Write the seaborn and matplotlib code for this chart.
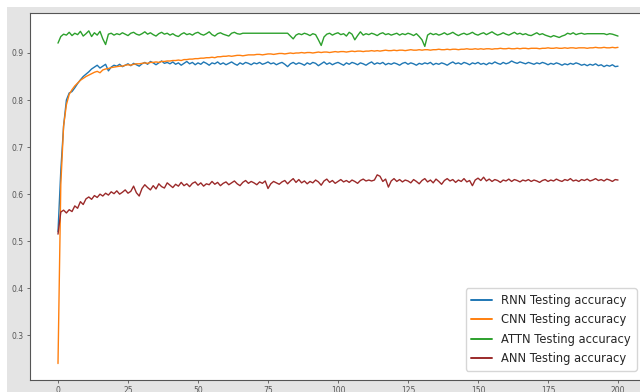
import numpy as np
import pandas as pd
import matplotlib
matplotlib.use("Agg")
import matplotlib.pyplot as plt
import seaborn as sns
from matplotlib.patches import Rectangle

epochs = list(range(201))

cnn_acc = [
    0.240, 0.620, 0.745, 0.790, 0.812, 0.822, 0.830, 0.836, 0.842, 0.846,
    0.850, 0.853, 0.856, 0.859, 0.861, 0.858, 0.864, 0.866, 0.867, 0.869,
    0.870, 0.871, 0.872, 0.872, 0.874, 0.875, 0.874, 0.876, 0.877, 0.877,
    0.878, 0.879, 0.878, 0.880, 0.880, 0.881, 0.880, 0.882, 0.882, 0.883,
    0.883, 0.884, 0.884, 0.885, 0.884, 0.886, 0.886, 0.887, 0.887, 0.888,
    0.888, 0.889, 0.889, 0.890, 0.890, 0.891, 0.890, 0.892, 0.892, 0.893,
    0.893, 0.894, 0.893, 0.894, 0.895, 0.895, 0.894, 0.895, 0.896, 0.896,
    0.896, 0.897, 0.897, 0.896, 0.897, 0.898, 0.898, 0.897, 0.898, 0.899,
    0.899, 0.898, 0.899, 0.900, 0.899, 0.900, 0.900, 0.901, 0.900, 0.901,
    0.901, 0.900, 0.901, 0.902, 0.901, 0.902, 0.902, 0.901, 0.902, 0.903,
    0.902, 0.903, 0.903, 0.902, 0.903, 0.904, 0.903, 0.904, 0.904, 0.903,
    0.904, 0.904, 0.905, 0.904, 0.905, 0.904, 0.905, 0.906, 0.905, 0.905,
    0.906, 0.905, 0.906, 0.906, 0.905, 0.906, 0.907, 0.906, 0.906, 0.907,
    0.906, 0.907, 0.907, 0.906, 0.907, 0.907, 0.908, 0.907, 0.907, 0.908,
    0.907, 0.908, 0.908, 0.907, 0.908, 0.908, 0.909, 0.908, 0.908, 0.909,
    0.908, 0.909, 0.908, 0.909, 0.909, 0.908, 0.909, 0.909, 0.910, 0.909,
    0.909, 0.910, 0.909, 0.909, 0.910, 0.909, 0.910, 0.910, 0.909, 0.910,
    0.910, 0.910, 0.909, 0.910, 0.910, 0.911, 0.910, 0.910, 0.911, 0.910,
    0.910, 0.911, 0.910, 0.911, 0.911, 0.910, 0.911, 0.911, 0.911, 0.910,
    0.911, 0.911, 0.912, 0.911, 0.911, 0.912, 0.911, 0.911, 0.912, 0.911,
    0.912,
]

rnn_acc = [
    0.520, 0.650, 0.745, 0.800, 0.815, 0.818, 0.826, 0.835, 0.843, 0.850,
    0.855, 0.860, 0.866, 0.870, 0.874, 0.868, 0.872, 0.876, 0.862, 0.870,
    0.874, 0.872, 0.876, 0.871, 0.874, 0.877, 0.873, 0.878, 0.875, 0.872,
    0.877, 0.880, 0.876, 0.882, 0.879, 0.875, 0.879, 0.883, 0.878, 0.880,
    0.877, 0.881, 0.876, 0.879, 0.874, 0.878, 0.882, 0.877, 0.880, 0.875,
    0.879, 0.876, 0.881, 0.878, 0.874, 0.879, 0.877, 0.881, 0.876, 0.879,
    0.875, 0.878, 0.881, 0.877, 0.874, 0.879, 0.876, 0.880, 0.878, 0.875,
    0.879, 0.877, 0.880, 0.876, 0.878, 0.881, 0.877, 0.879, 0.875, 0.878,
    0.880, 0.876, 0.871, 0.877, 0.880, 0.876, 0.879, 0.877, 0.874, 0.879,
    0.876, 0.880, 0.878, 0.873, 0.877, 0.881, 0.876, 0.879, 0.875, 0.878,
    0.880, 0.877, 0.874, 0.879, 0.876, 0.880, 0.878, 0.875, 0.879, 0.877,
    0.874, 0.878, 0.881, 0.876, 0.879, 0.877, 0.880, 0.875, 0.878, 0.876,
    0.879, 0.877, 0.874, 0.878, 0.880, 0.876, 0.879, 0.877, 0.874, 0.878,
    0.876, 0.879, 0.877, 0.880, 0.875, 0.878, 0.876, 0.879, 0.877, 0.874,
    0.878, 0.881, 0.877, 0.879, 0.876, 0.880, 0.878, 0.875, 0.879, 0.877,
    0.880, 0.876, 0.878, 0.875, 0.879, 0.877, 0.881, 0.878, 0.876, 0.880,
    0.877, 0.879, 0.883, 0.880, 0.878, 0.881, 0.879, 0.877, 0.880, 0.878,
    0.876, 0.879, 0.877, 0.880, 0.878, 0.875, 0.878, 0.876, 0.879, 0.877,
    0.874, 0.877, 0.875, 0.878, 0.876, 0.879, 0.877, 0.874, 0.876, 0.873,
    0.876, 0.874, 0.877, 0.873, 0.875, 0.871, 0.874, 0.872, 0.875, 0.871,
    0.872,
]

attn_acc = [
    0.921, 0.935, 0.940, 0.938, 0.944, 0.937, 0.942, 0.939, 0.946, 0.936,
    0.941, 0.947, 0.935, 0.943, 0.938, 0.946, 0.930, 0.918, 0.940, 0.942,
    0.938, 0.941, 0.939, 0.943, 0.940, 0.937, 0.942, 0.944, 0.940, 0.938,
    0.941, 0.945, 0.940, 0.943, 0.939, 0.936, 0.941, 0.944, 0.940, 0.942,
    0.938, 0.941, 0.937, 0.935, 0.940, 0.943, 0.939, 0.941, 0.938, 0.942,
    0.944, 0.940, 0.938, 0.941, 0.945, 0.939, 0.936, 0.941, 0.943, 0.940,
    0.938, 0.936, 0.942, 0.944, 0.941, 0.940, 0.942, 0.942, 0.942, 0.942,
    0.942, 0.942, 0.942, 0.942, 0.942, 0.942, 0.942, 0.942, 0.942, 0.942,
    0.942, 0.942, 0.942, 0.936, 0.930, 0.938, 0.941, 0.939, 0.942, 0.940,
    0.937, 0.941, 0.939, 0.928, 0.916, 0.934, 0.940, 0.942, 0.938, 0.941,
    0.943, 0.939, 0.941, 0.936, 0.944, 0.940, 0.928, 0.937, 0.945, 0.938,
    0.941, 0.939, 0.942, 0.940, 0.937, 0.941, 0.943, 0.939, 0.941, 0.938,
    0.940, 0.942, 0.938, 0.941, 0.939, 0.942, 0.940, 0.937, 0.941, 0.935,
    0.928, 0.914, 0.938, 0.942, 0.939, 0.941, 0.938, 0.940, 0.943, 0.939,
    0.941, 0.944, 0.940, 0.937, 0.940, 0.942, 0.939, 0.941, 0.944, 0.940,
    0.938, 0.941, 0.943, 0.939, 0.942, 0.945, 0.941, 0.938, 0.940, 0.943,
    0.940, 0.938, 0.941, 0.944, 0.940, 0.942, 0.939, 0.941, 0.938, 0.937,
    0.940, 0.943, 0.939, 0.941, 0.938, 0.936, 0.934, 0.937, 0.935, 0.933,
    0.936, 0.938, 0.942, 0.940, 0.943, 0.939, 0.941, 0.942, 0.940, 0.941,
    0.941, 0.941, 0.941, 0.941, 0.941, 0.941, 0.939, 0.941, 0.940, 0.938,
    0.936,
]

ann_acc = [
    0.515, 0.562, 0.566, 0.560, 0.567, 0.563, 0.575, 0.570, 0.584, 0.578,
    0.590, 0.594, 0.589, 0.597, 0.593, 0.600, 0.596, 0.602, 0.598, 0.605,
    0.601, 0.607, 0.600, 0.604, 0.609, 0.602, 0.606, 0.617, 0.603, 0.596,
    0.612, 0.620, 0.614, 0.609, 0.618, 0.611, 0.622, 0.616, 0.613, 0.624,
    0.619, 0.614, 0.621, 0.617, 0.625, 0.618, 0.622, 0.616, 0.623, 0.626,
    0.619, 0.624, 0.617, 0.622, 0.620, 0.627, 0.621, 0.625, 0.618, 0.623,
    0.626, 0.620, 0.624, 0.628, 0.622, 0.618, 0.625, 0.629, 0.623, 0.627,
    0.624, 0.620, 0.626, 0.623, 0.628, 0.612, 0.622, 0.627, 0.624, 0.621,
    0.626, 0.629, 0.622, 0.628, 0.633, 0.625, 0.631, 0.624, 0.628, 0.622,
    0.627, 0.624, 0.630, 0.626, 0.619, 0.628, 0.632, 0.625, 0.629, 0.623,
    0.627, 0.631, 0.626, 0.629, 0.625, 0.630, 0.627, 0.623, 0.629, 0.632,
    0.628, 0.630, 0.628, 0.630, 0.641, 0.638, 0.627, 0.632, 0.615, 0.628,
    0.633, 0.627, 0.631, 0.626, 0.630, 0.628, 0.624, 0.631, 0.627, 0.622,
    0.629, 0.633, 0.626, 0.630, 0.624, 0.632, 0.627, 0.621, 0.629, 0.633,
    0.628, 0.631, 0.625, 0.630, 0.627, 0.633, 0.626, 0.629, 0.618, 0.630,
    0.634, 0.629, 0.636, 0.628, 0.632, 0.627, 0.631, 0.629, 0.625, 0.630,
    0.628, 0.632, 0.627, 0.631, 0.629, 0.626, 0.630, 0.628, 0.631, 0.627,
    0.630, 0.628, 0.625, 0.629, 0.631, 0.627, 0.630, 0.628, 0.632, 0.629,
    0.627, 0.631, 0.629, 0.633, 0.628, 0.630, 0.627, 0.631, 0.629, 0.632,
    0.628, 0.630, 0.633, 0.629, 0.631, 0.628, 0.632, 0.630, 0.627, 0.631,
    0.630,
]

labels = ["RNN Testing accuracy", "CNN Testing accuracy",
          "ATTN Testing accuracy", "ANN Testing accuracy"]
colors = ["#1f77b4", "#ff7f0e", "#2ca02c", "#9b2a2a"]
x_ticks = [0, 25, 50, 75, 100, 125, 150, 175, 200]
y_ticks = [0.3, 0.4, 0.5, 0.6, 0.7, 0.8, 0.9]

series = [rnn_acc, cnn_acc, attn_acc, ann_acc]
df = pd.concat(
    [pd.DataFrame({"epoch": epochs, "acc": s, "model": lab})
     for s, lab in zip(series, labels)],
    ignore_index=True,
)

sns.set_style("ticks")
plt.rcParams["font.family"] = ["DejaVu Sans"]

fig = plt.figure(figsize=(6.4, 3.92), dpi=100, facecolor="#e4e4e4")
# white screenshot border on top and left
fig.patches.append(Rectangle((0, 1 - 7 / 392), 1, 7 / 392, transform=fig.transFigure,
                             facecolor="white", edgecolor="none", zorder=0))
fig.patches.append(Rectangle((0, 0), 7 / 640, 1, transform=fig.transFigure,
                             facecolor="white", edgecolor="none", zorder=0))

ax = fig.add_axes([30 / 640, 12 / 392, 616 / 640, 367 / 392])
ax.set_facecolor("white")

sns.lineplot(data=df, x="epoch", y="acc", hue="model", hue_order=labels,
             palette=colors, linewidth=1.0, ax=ax, legend=True)

ax.set_xlim(-10, 210)
ax.set_ylim(0.205, 0.985)
ax.set_xticks(x_ticks)
ax.set_xticklabels([str(t) for t in x_ticks])
ax.set_yticks(y_ticks)
ax.set_yticklabels([f"{t:.1f}" for t in y_ticks])
ax.set_xlabel("")
ax.set_ylabel("")
ax.tick_params(axis="both", labelsize=5.5, length=2.5, width=0.6,
               colors="#555555", pad=2)
for sp in ax.spines.values():
    sp.set_color("#555555")
    sp.set_linewidth(0.8)

leg = ax.legend(loc="lower right", fontsize=8.3, frameon=True,
                borderaxespad=0.8, labelspacing=0.55, handlelength=1.8,
                borderpad=0.5)
leg.get_frame().set_edgecolor("#cccccc")
for h in leg.get_lines():
    h.set_linewidth(1.4)

fig.savefig("out.png", dpi=100, facecolor=fig.get_facecolor())
